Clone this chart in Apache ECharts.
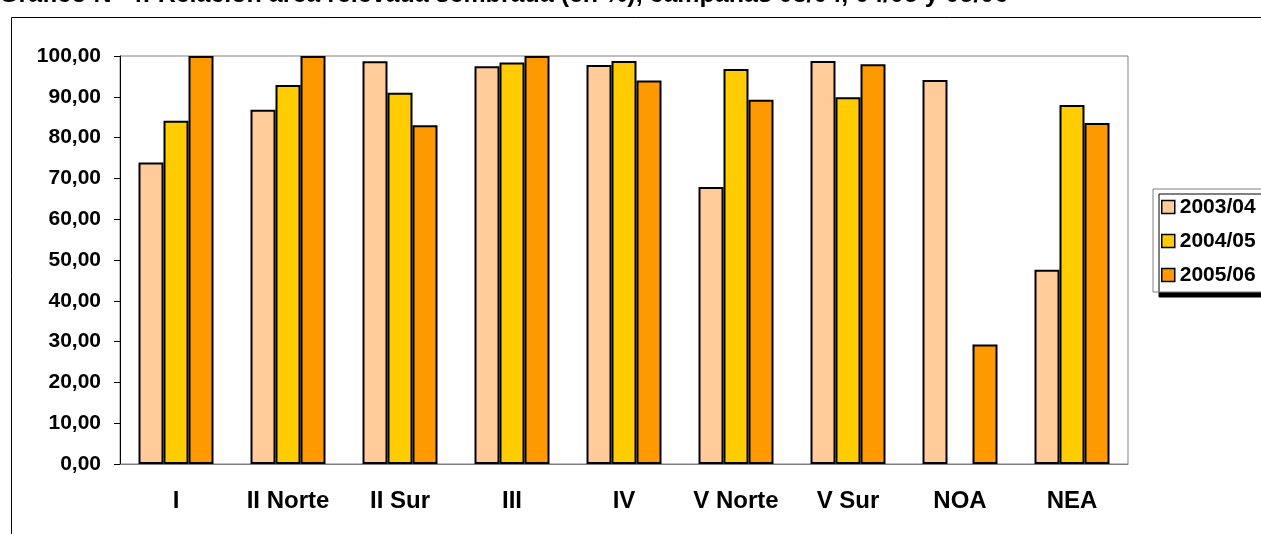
<!DOCTYPE html>
<html>
<head>
<meta charset="utf-8">
<script src="https://cdn.jsdelivr.net/npm/echarts@6/dist/echarts.min.js"></script>
<style>
html,body{margin:0;padding:0;background:#fff;}
#c{width:1261px;height:534px;}
</style>
</head>
<body>
<div id="c"></div>
<script>
const titleText = 'Gráfico N° 4: Relación área relevada sembrada (en %), campañas 03/04, 04/05 y 05/06';
const categories = ['I', 'II Norte', 'II Sur', 'III', 'IV', 'V Norte', 'V Sur', 'NOA', 'NEA'];
const seriesNames = ['2003/04', '2004/05', '2005/06'];
const values0304 = [73.9, 86.8, 98.7, 97.5, 97.8, 67.9, 98.8, 94.1, 47.6];
const values0405 = [84.1, 92.9, 91.0, 98.4, 98.8, 96.8, 89.9, null, 88.0];
const values0506 = [100, 100, 83.0, 100, 94.0, 89.3, 98.0, 29.3, 83.6];
const yTicks = [0, 10, 20, 30, 40, 50, 60, 70, 80, 90, 100];
const colors = ['#FFCC99', '#FFCC00', '#FF9900'];

const FONT = 'Liberation Sans, Arial, sans-serif';
const chart = echarts.init(document.getElementById('c'), null, {renderer: 'canvas'});
const allValues = [values0304, values0405, values0506];
const series = seriesNames.map((n, i) => ({
  name: n,
  type: 'bar',
  data: allValues[i],
  barWidth: 25,
  barGap: '0%',
  itemStyle: {color: colors[i], borderColor: '#000', borderWidth: 2},
  emphasis: {disabled: true}
}));
chart.setOption({
  animation: false,
  backgroundColor: '#fff',
  title: {
    text: titleText,
    left: -6, top: -22,
    textStyle: {fontFamily: FONT, fontWeight: 'bold', fontSize: 25, color: '#000'}
  },
  graphic: [{
    type: 'rect', z: -1,
    shape: {x: 11.5, y: 17.5, width: 1400, height: 700},
    style: {fill: 'none', stroke: '#000', lineWidth: 1}
  }],
  grid: {left: 120, right: 133, top: 56, bottom: 70, show: true, borderColor: '#808080', borderWidth: 1, backgroundColor: '#fff'},
  legend: {
    orient: 'vertical',
    left: 1153, top: 189,
    padding: [6, 20, 5, 8],
    backgroundColor: '#fff',
    borderColor: '#808080', borderWidth: 1, borderRadius: 0,
    shadowColor: '#000', shadowBlur: 0, shadowOffsetX: 6, shadowOffsetY: 5,
    itemWidth: 13, itemHeight: 13, itemGap: 10,
    icon: 'rect',
    itemStyle: {borderColor: '#000', borderWidth: 1.5},
    textStyle: {fontFamily: FONT, fontWeight: 'bold', fontSize: 21, color: '#000', lineHeight: 24},
    data: seriesNames
  },
  xAxis: {
    type: 'category',
    data: categories,
    axisLine: {lineStyle: {color: '#808080', width: 1}},
    axisTick: {show: false},
    axisLabel: {fontFamily: FONT, fontWeight: 'bold', fontSize: 24, color: '#000', margin: 25, interval: 0}
  },
  yAxis: {
    type: 'value',
    min: yTicks[0], max: yTicks[yTicks.length - 1], interval: 10,
    axisLine: {show: true, lineStyle: {color: '#000', width: 1}},
    axisTick: {show: true, length: 6, lineStyle: {color: '#000'}},
    splitLine: {show: false},
    axisLabel: {
      fontFamily: FONT, fontWeight: 'bold', fontSize: 21, color: '#000', margin: 19,
      formatter: v => v.toFixed(2).replace('.', ',')
    }
  },
  series: series
});
</script>
</body>
</html>
